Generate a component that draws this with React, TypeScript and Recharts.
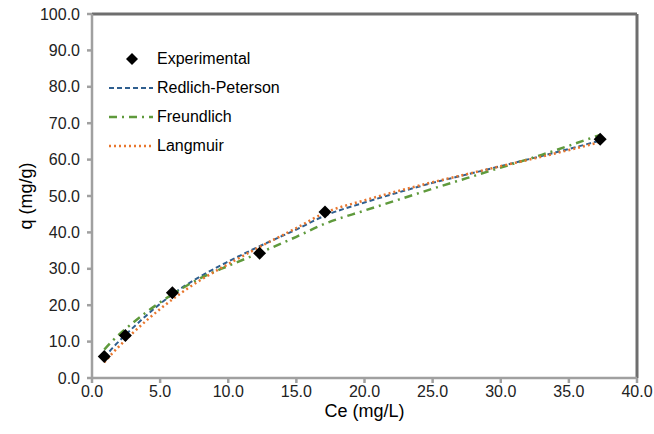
import React from 'react';
import { ComposedChart, Line, Scatter, XAxis, YAxis, ReferenceLine, Label } from 'recharts';

const ceExp = [0.9, 2.45, 5.9, 12.3, 17.1, 37.3];
const qExp = [5.9, 11.7, 23.4, 34.3, 45.6, 65.6];

const ceFit = [0.9, 1.5, 2.5, 4, 5.9, 8, 10, 12.3, 15, 17.1, 20, 22.5, 25, 27.5, 30, 33, 37.3];
const qLangmuir = [4.3, 6.8, 10.6, 15.8, 21.6, 27.0, 31.3, 36.0, 41.2, 45.4, 48.8, 51.4, 53.8, 56.0, 58.2, 60.8, 64.8];
const qRedlich = [5.6, 8.2, 12.0, 17.2, 23.0, 28.0, 32.0, 36.2, 40.8, 44.6, 48.2, 51.0, 53.6, 55.9, 58.2, 61.0, 65.2];
const qFreundlich = [7.8, 10.2, 13.6, 18.1, 23.0, 27.5, 30.8, 34.4, 38.8, 42.4, 46.0, 49.0, 52.0, 54.9, 57.8, 61.3, 66.8];

const xTicks = [0, 5, 10, 15, 20, 25, 30, 35, 40];
const yTicks = [0, 10, 20, 30, 40, 50, 60, 70, 80, 90, 100];

const expData = ceExp.map((x, i) => ({ x, y: qExp[i] }));
const langData = ceFit.map((x, i) => ({ x, y: qLangmuir[i] }));
const rpData = ceFit.map((x, i) => ({ x, y: qRedlich[i] }));
const frData = ceFit.map((x, i) => ({ x, y: qFreundlich[i] }));

const FONT = '"Liberation Sans", Arial, sans-serif';
const C_BLUE = '#2f5f8f';
const C_GREEN = '#5f9a3c';
const C_ORANGE = '#e8762d';

const Diamond = (props: any) => {
  const { cx, cy } = props;
  const r = 6.5;
  return <polygon points={`${cx},${cy - r} ${cx + r},${cy} ${cx},${cy + r} ${cx - r},${cy}`} fill="#000" />;
};

const legendItems = [
  { name: 'Experimental', kind: 'marker', color: '#000', dash: '', w: 0 },
  { name: 'Redlich-Peterson', kind: 'line', color: C_BLUE, dash: '5 3', w: 2 },
  { name: 'Freundlich', kind: 'line', color: C_GREEN, dash: '8 5 2 5', w: 2.5 },
  { name: 'Langmuir', kind: 'line', color: C_ORANGE, dash: '2 3', w: 2.5 },
];

const YTitle = (props: any) => {
  const vb = props.viewBox || {};
  const cx = 26;
  const cy = vb.y + vb.height / 2;
  return (
    <text x={cx} y={cy} transform={`rotate(-90, ${cx}, ${cy})`} textAnchor="middle" dominantBaseline="central"
      fontFamily={FONT} fontSize={18} fill="#000">q (mg/g)</text>
  );
};

const XTitle = (props: any) => {
  const vb = props.viewBox || {};
  const cx = vb.x + vb.width / 2;
  return (
    <text x={cx} y={417} textAnchor="middle" fontFamily={FONT} fontSize={18} fill="#000">Ce (mg/L)</text>
  );
};

export default function App() {
  return (
    <div style={{ position: 'absolute', left: 0, top: 0, width: 654, height: 434, background: '#fff' }}>
      <ComposedChart width={654} height={434} margin={{ top: 14, right: 17, bottom: 26, left: 0 }}>
        <XAxis
          type="number"
          dataKey="x"
          domain={[0, 40]}
          ticks={xTicks}
          allowDataOverflow
          tickFormatter={(v: number) => v.toFixed(1)}
          tick={{ fontFamily: FONT, fontSize: 16, fill: '#222' }}
          stroke="#a0a0a0"
          strokeWidth={2.5}
          tickSize={5}
          tickMargin={3}
          height={30}
        >
          <Label content={<XTitle />} />
        </XAxis>
        <YAxis
          type="number"
          dataKey="y"
          domain={[0, 100]}
          ticks={yTicks}
          allowDataOverflow
          tickFormatter={(v: number) => v.toFixed(1)}
          tick={{ fontFamily: FONT, fontSize: 16, fill: '#222' }}
          stroke="#a0a0a0"
          strokeWidth={2.5}
          tickSize={5}
          tickMargin={7}
          width={92}
        >
          <Label content={<YTitle />} />
        </YAxis>
        <ReferenceLine y={100} stroke="#6e6e6e" strokeWidth={3} />
        <ReferenceLine x={40} stroke="#6e6e6e" strokeWidth={3} />
        <Line data={rpData} dataKey="y" type="monotone" stroke={C_BLUE} strokeWidth={2} strokeDasharray="5 3" dot={false} isAnimationActive={false} name="Redlich-Peterson" />
        <Line data={frData} dataKey="y" type="monotone" stroke={C_GREEN} strokeWidth={2.5} strokeDasharray="8 5 2 5" dot={false} isAnimationActive={false} name="Freundlich" />
        <Line data={langData} dataKey="y" type="monotone" stroke={C_ORANGE} strokeWidth={2.5} strokeDasharray="2 3" dot={false} isAnimationActive={false} name="Langmuir" />
        <Scatter data={expData} dataKey="y" shape={<Diamond />} fill="#000" isAnimationActive={false} name="Experimental" />
      </ComposedChart>
      <div style={{ position: 'absolute', left: 108, top: 44, fontFamily: FONT, fontSize: 16, color: '#000' }}>
        {legendItems.map((it) => (
          <div key={it.name} style={{ display: 'flex', alignItems: 'center', height: 29 }}>
            <svg width={46} height={14} style={{ marginRight: 3 }}>
              {it.kind === 'marker' ? (
                <polygon points="24,1 30,7 24,13 18,7" fill="#000" />
              ) : (
                <line x1={1} y1={7} x2={45} y2={7} stroke={it.color} strokeWidth={it.w} strokeDasharray={it.dash} />
              )}
            </svg>
            <span>{it.name}</span>
          </div>
        ))}
      </div>
    </div>
  );
}
